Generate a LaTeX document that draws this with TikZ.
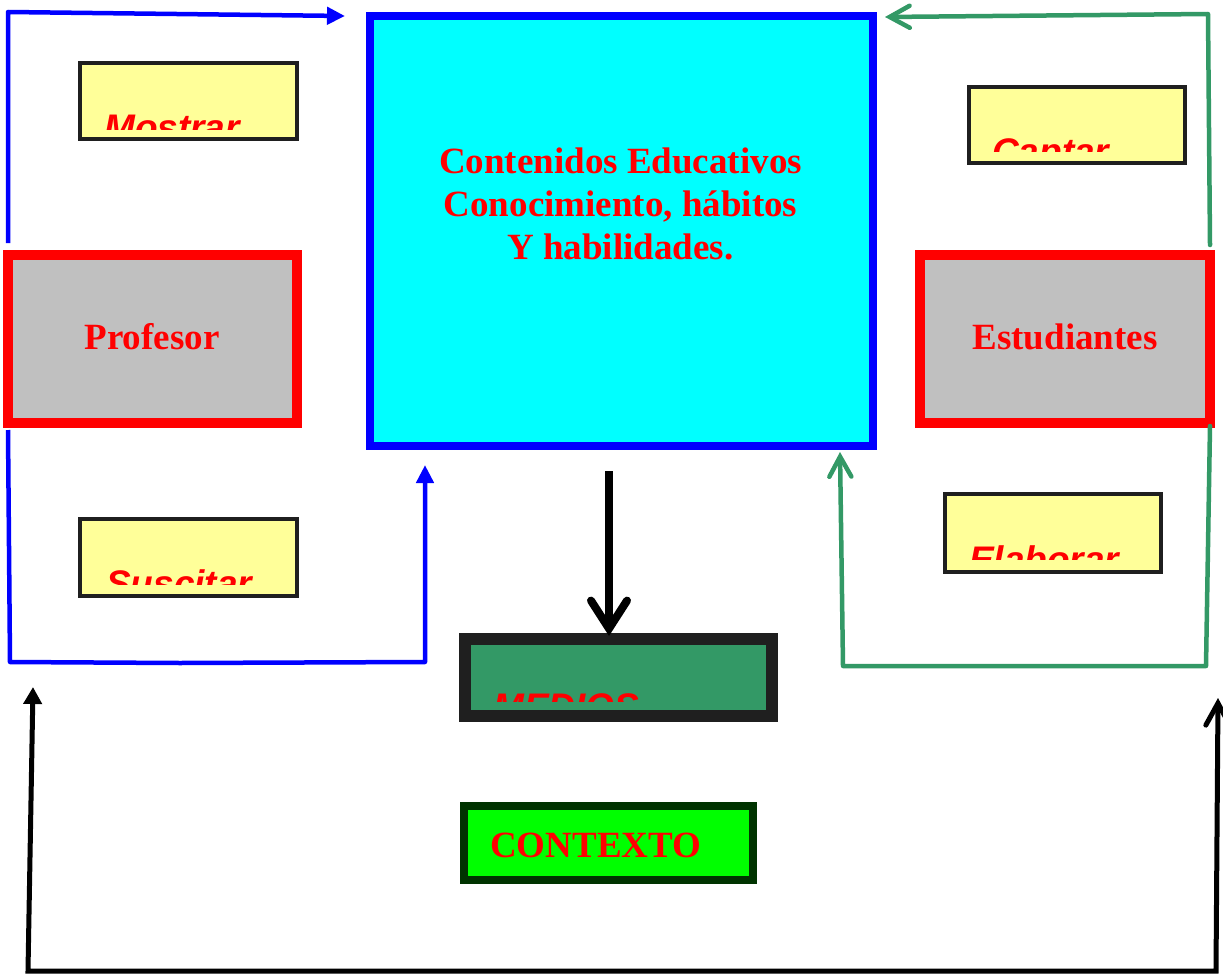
\documentclass[tikz,border=0pt]{standalone}
\usepackage{fontspec}
\setmainfont{Liberation Serif}
\setsansfont{Liberation Sans}
\usetikzlibrary{arrows.meta}
\definecolor{pblue}{HTML}{0000FF}
\definecolor{pcyan}{HTML}{00FFFF}
\definecolor{pred}{HTML}{FF0000}
\definecolor{pgray}{HTML}{C0C0C0}
\definecolor{pyellow}{HTML}{FFFF99}
\definecolor{pdark}{HTML}{1F1F1F}
\definecolor{pgreen}{HTML}{339966}
\definecolor{plime}{HTML}{00FF00}
\definecolor{pdkgreen}{HTML}{003300}
\begin{document}
\begin{tikzpicture}[x=1pt,y=-1pt,
  box/.style={draw, outer sep=0pt, inner sep=0pt, anchor=center},
  mainbox/.style={box, draw=pblue, fill=pcyan, line width=8pt},
  actor/.style={box, draw=pred, fill=pgray, line width=10pt},
  verb/.style={box, draw=pdark, fill=pyellow, line width=4pt},
  lbl/.style={text=pred, font=\fontsize{37}{43}\selectfont\bfseries, inner sep=0pt},
  ilbl/.style={text=pred, font=\fontsize{37}{43}\selectfont\sffamily\bfseries\itshape, inner sep=0pt, anchor=base west},
  blueline/.style={draw=pblue, line width=4.5pt, line join=round},
  greenline/.style={draw=pgreen, line width=4.5pt, line join=round, line cap=round},
  blackline/.style={draw=black, line width=5pt, line join=miter}
]
\useasboundingbox[fill=white] (0,0) rectangle (1223,974);

% main box
\node[mainbox, minimum width=503pt, minimum height=430pt] (cont) at (621.5,231) {};
\node[lbl, align=center, anchor=north] (contt) at (620.5,148)
  {Contenidos Educativos\\Conocimiento, hábitos\\Y habilidades.};

% actors
\node[actor, minimum width=289pt, minimum height=168pt] (prof) at (152.5,339) {};
\node[lbl, anchor=base] (proft) at (152,349) {Profesor};
\node[actor, minimum width=290pt, minimum height=168pt] (est) at (1065,339) {};
\node[lbl, anchor=base] (estt) at (1065,349) {Estudiantes};

% verb boxes
\node[verb, minimum width=217pt, minimum height=76pt] (mostrar) at (188.5,101) {};
\node[verb, minimum width=216pt, minimum height=76pt] (captar) at (1077,125) {};
\node[verb, minimum width=217pt, minimum height=77pt] (suscitar) at (188.5,557.5) {};
\node[verb, minimum width=216pt, minimum height=78pt] (elaborar) at (1053,533) {};
\begin{scope}
  \clip (82,65) rectangle (295,129);
  \node[ilbl] (mostrart) at (104,140.5) {Mostrar};
\end{scope}
\begin{scope}
  \clip (971,89) rectangle (1183,151);
  \node[ilbl] (captart) at (992,164.5) {Captar};
\end{scope}
\begin{scope}
  \clip (82,521) rectangle (295,584);
  \node[ilbl] (suscitart) at (106,596.5) {Suscitar};
\end{scope}
\begin{scope}
  \clip (947,496) rectangle (1159,559);
  \node[ilbl] (elaborart) at (969,572.5) {Elaborar};
\end{scope}

% medios
\node[box, draw=pdark, fill=pgreen, line width=12pt, minimum width=307pt, minimum height=77pt] (medios) at (618.5,677.5) {};
\begin{scope}
  \clip (471,645) rectangle (766,701);
  \node[ilbl] (mediost) at (493,719.5) {MEDIOS};
\end{scope}

% contexto
\node[box, draw=pdkgreen, fill=plime, line width=8pt, minimum width=289pt, minimum height=74pt] (contexto) at (608.5,843) {};
\node[lbl, anchor=base west] (contextot) at (490,857) {CONTEXTO};

% blue connectors (Profesor -> contenidos)
\coordinate (bTL) at (8,12);
\draw[blueline, -{Triangle[length=18pt,width=17pt]}]
  ([yshift=12pt]prof.north west) -- (bTL) -- ([xshift=-25pt]cont.north west);
\coordinate (bBL) at (10,662);
\coordinate (bBM) at (180,663);
\coordinate (bBR) at (425,662);
\draw[blueline, -{Triangle[length=18pt,width=17pt]}]
  ([yshift=-7pt]prof.south west) -- (bBL) -- (bBM) -- (bBR) -- ([shift={(55pt,-19pt)}]cont.south west);

% green connectors (Estudiantes -> contenidos)
\coordinate (gTR) at (1208,14);
\draw[greenline, -{Straight Barb[length=20pt,width=22pt,line cap=round]}]
  ([yshift=10pt]est.north east) -- (gTR) -- ([shift={(12pt,-1pt)}]cont.north east);
\coordinate (gBR) at (1206,666);
\coordinate (gBL) at (843,666);
\draw[greenline, -{Straight Barb[length=20pt,width=22pt,line cap=round]}]
  ([yshift=-3pt]est.south east) -- (gBR) -- (gBL) -- ([shift={(-33pt,-6pt)}]cont.south east);

% black arrow contenidos -> medios
\draw[draw=black, line width=8pt, -{Straight Barb[length=28pt,width=36pt,line cap=round]}]
  ([shift={(-12.5pt,-25pt)}]cont.south) -- ([shift={(-9.5pt,3pt)}]medios.north);

% context frame
\coordinate (kL) at (33,687);
\coordinate (kBL) at (28,971);
\coordinate (kBR) at (1216,971);
\coordinate (kR) at (1218,698);
\draw[blackline, {Triangle[length=17pt,width=18pt]}-{Straight Barb[length=22pt,width=24pt,line cap=round]}]
  (kL) -- (kBL) -- (kBR) -- (kR);
\end{tikzpicture}
\end{document}
